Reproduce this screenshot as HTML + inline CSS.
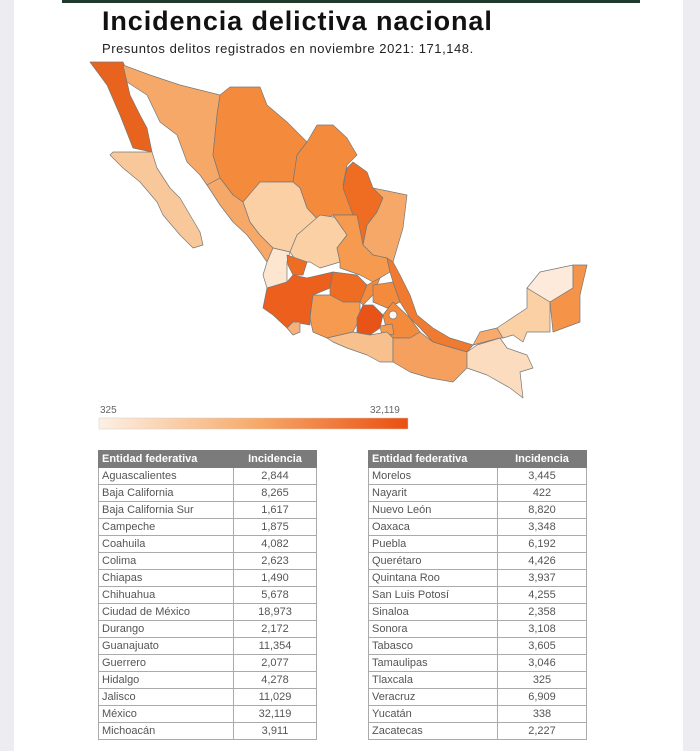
<!DOCTYPE html>
<html><head><meta charset="utf-8"><style>
html,body{margin:0;padding:0;}
body{width:700px;height:751px;background:#ededf1;position:relative;overflow:hidden;font-family:"Liberation Sans",sans-serif;}
.page{position:absolute;left:14px;top:0;width:669px;height:751px;background:#fff;}
.bar{position:absolute;left:62px;top:0;width:578px;height:3px;background:#1f3a2c;}
h1{position:absolute;left:102px;top:6px;margin:0;font-size:27px;font-weight:bold;color:#111;letter-spacing:0.9px;}
.sub{position:absolute;left:102px;top:41px;font-size:13px;color:#222;letter-spacing:0.55px;}
table{position:absolute;top:450px;border-collapse:collapse;font-size:11px;color:#555;}
td,th{height:16px;padding:0 3px;border:1px solid #aaa;line-height:15px;}
th{background:#7b7b7b;color:#fff;font-weight:bold;border-color:#7b7b7b;text-align:left;}
th.n{text-align:center;}
td.n{text-align:center;}
</style></head><body>
<div class="page"></div>
<div class="bar"></div>
<h1>Incidencia delictiva nacional</h1>
<div class="sub">Presuntos delitos registrados en noviembre 2021: 171,148.</div>
<svg width="700" height="751" style="position:absolute;left:0;top:0" stroke="#777" stroke-width="0.7" stroke-linejoin="round">
<polygon fill="#e8641e" points="90,62 123,62 130,78 127,82 130,95 140,115 147,128 152,152 133,148 120,115 107,85"/>
<polygon fill="#f8c89a" points="113,152 152,152 157,168 170,188 180,198 190,215 200,232 203,245 193,248 180,235 163,215 157,202 140,182 123,168 110,155"/>
<polygon fill="#f6a868" points="123,65 150,75 180,85 220,95 217,115 213,155 220,178 207,185 200,175 187,162 177,135 160,122 147,95 127,82"/>
<polygon fill="#f48a3c" points="220,95 230,87 260,87 267,105 287,122 307,142 297,155 293,182 267,182 260,188 243,202 233,195 220,178 213,155 217,115"/>
<polygon fill="#f48a3c" points="307,142 317,125 333,125 347,138 357,155 347,165 343,185 357,198 357,215 333,215 320,222 307,208 300,188 293,182 297,155"/>
<polygon fill="#ee6d22" points="353,162 367,172 373,188 383,198 377,212 367,225 363,245 353,242 353,215 343,188 347,168"/>
<polygon fill="#f6a868" points="373,188 407,195 403,228 393,262 387,258 373,255 363,245 367,225 377,212 383,198"/>
<polygon fill="#f6a868" points="207,185 220,178 233,195 243,202 250,222 260,235 273,248 267,262 260,252 247,235 233,222 220,205"/>
<polygon fill="#fad0a4" points="243,202 260,182 293,182 300,188 307,208 320,222 313,222 297,235 290,252 273,248 260,235 250,222"/>
<polygon fill="#fad0a4" points="297,235 320,215 340,218 347,235 337,248 340,262 320,268 310,262 297,262 290,252"/>
<polygon fill="#f69a50" points="333,215 357,215 363,245 373,255 387,258 390,272 373,282 360,275 340,268 340,262 337,248 347,235"/>
<polygon fill="#fce6d0" points="267,262 273,248 290,252 287,262 287,282 280,288 267,288 263,275"/>
<polygon fill="#ec5f1c" points="267,288 287,282 293,275 307,278 320,275 333,272 330,288 313,295 310,315 310,325 293,322 287,328 273,315 263,308"/>
<polygon fill="#ee6d22" points="287,255 307,262 303,275 293,275 288,265"/>
<polygon fill="#ee6d22" points="333,272 357,275 367,285 360,302 343,302 330,295 330,288"/>
<polygon fill="#f48a3c" points="367,285 380,278 373,295 363,305 360,302"/>
<polygon fill="#f48a3c" points="373,285 393,282 400,302 387,308 373,302"/>
<polygon fill="#f07a30" points="387,258 393,262 400,275 410,295 417,315 433,328 450,338 473,345 467,352 453,348 433,342 420,328 410,318 400,302 393,282 390,272"/>
<polygon fill="#f69a50" points="310,318 313,295 330,295 343,302 360,302 360,318 353,332 340,335 327,338 313,332"/>
<polygon fill="#f7b07a" points="287,328 293,322 300,322 300,332 293,335"/>
<polygon fill="#f48a3c" points="383,315 393,302 410,318 420,332 410,338 393,338 387,332"/>
<polygon fill="#e85418" points="357,318 363,305 373,305 383,315 380,328 370,335 357,332"/>
<polygon fill="#f69a50" points="380,326 392,324 394,334 382,336"/>
<circle cx="393" cy="315" r="4" fill="#fff6ee"/>
<polygon fill="#f8c08c" points="327,338 353,332 370,335 387,332 393,338 393,362 380,362 367,355 347,348 333,342"/>
<polygon fill="#f6a060" points="393,338 410,338 420,332 433,342 453,348 467,352 467,368 453,382 430,378 410,372 393,362"/>
<polygon fill="#fbdcbe" points="467,352 477,345 500,338 507,348 527,355 533,368 520,372 523,398 510,388 487,375 467,368"/>
<polygon fill="#f7aa6c" points="473,345 480,332 497,328 503,338 500,338"/>
<polygon fill="#fad0a4" points="497,328 527,308 527,288 550,302 550,332 527,332 523,342 513,335 503,338"/>
<polygon fill="#fdeadb" points="527,288 540,272 573,265 573,288 550,302"/>
<polygon fill="#f59448" points="573,265 587,265 580,295 580,322 553,332 550,302 573,288"/>
<defs><linearGradient id="g" x1="0" x2="1"><stop offset="0" stop-color="#fdf0e4"/><stop offset="0.5" stop-color="#f7ab6c"/><stop offset="1" stop-color="#ea4f10"/></linearGradient></defs>
<rect x="99" y="418" width="309" height="11" fill="url(#g)" stroke="#ccc" stroke-width="0.5"/>
<text x="100" y="413" font-size="10" fill="#666" stroke="none" font-family="Liberation Sans">325</text>
<text x="370" y="413" font-size="10" fill="#666" stroke="none" font-family="Liberation Sans">32,119</text>
</svg>
<table style="left:98px;width:219px">
<tr><th style="width:128px">Entidad federativa</th><th class="n">Incidencia</th></tr>
<tr><td>Aguascalientes</td><td class="n">2,844</td></tr>
<tr><td>Baja California</td><td class="n">8,265</td></tr>
<tr><td>Baja California Sur</td><td class="n">1,617</td></tr>
<tr><td>Campeche</td><td class="n">1,875</td></tr>
<tr><td>Coahuila</td><td class="n">4,082</td></tr>
<tr><td>Colima</td><td class="n">2,623</td></tr>
<tr><td>Chiapas</td><td class="n">1,490</td></tr>
<tr><td>Chihuahua</td><td class="n">5,678</td></tr>
<tr><td>Ciudad de México</td><td class="n">18,973</td></tr>
<tr><td>Durango</td><td class="n">2,172</td></tr>
<tr><td>Guanajuato</td><td class="n">11,354</td></tr>
<tr><td>Guerrero</td><td class="n">2,077</td></tr>
<tr><td>Hidalgo</td><td class="n">4,278</td></tr>
<tr><td>Jalisco</td><td class="n">11,029</td></tr>
<tr><td>México</td><td class="n">32,119</td></tr>
<tr><td>Michoacán</td><td class="n">3,911</td></tr>
</table>
<table style="left:368px;width:219px">
<tr><th style="width:122px">Entidad federativa</th><th class="n">Incidencia</th></tr>
<tr><td>Morelos</td><td class="n">3,445</td></tr>
<tr><td>Nayarit</td><td class="n">422</td></tr>
<tr><td>Nuevo León</td><td class="n">8,820</td></tr>
<tr><td>Oaxaca</td><td class="n">3,348</td></tr>
<tr><td>Puebla</td><td class="n">6,192</td></tr>
<tr><td>Querétaro</td><td class="n">4,426</td></tr>
<tr><td>Quintana Roo</td><td class="n">3,937</td></tr>
<tr><td>San Luis Potosí</td><td class="n">4,255</td></tr>
<tr><td>Sinaloa</td><td class="n">2,358</td></tr>
<tr><td>Sonora</td><td class="n">3,108</td></tr>
<tr><td>Tabasco</td><td class="n">3,605</td></tr>
<tr><td>Tamaulipas</td><td class="n">3,046</td></tr>
<tr><td>Tlaxcala</td><td class="n">325</td></tr>
<tr><td>Veracruz</td><td class="n">6,909</td></tr>
<tr><td>Yucatán</td><td class="n">338</td></tr>
<tr><td>Zacatecas</td><td class="n">2,227</td></tr>
</table>
</body></html>
